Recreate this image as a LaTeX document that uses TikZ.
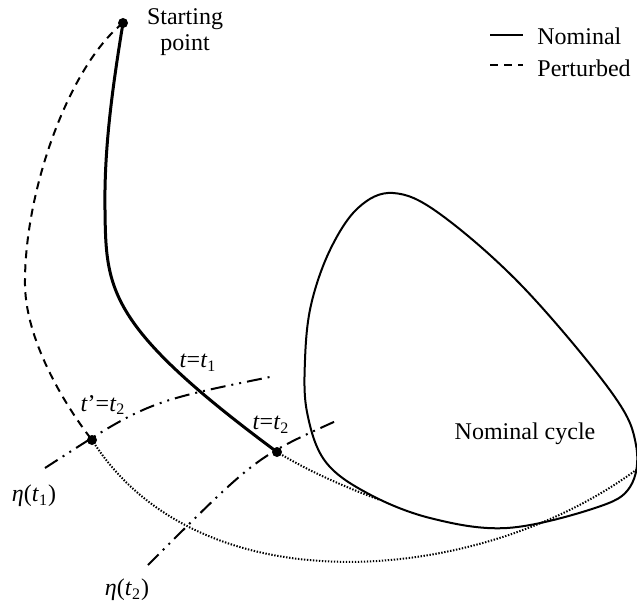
\documentclass[tikz,border=0pt]{standalone}
\usepackage{fontspec}
\setmainfont{Liberation Serif}
\usetikzlibrary{positioning}

\begin{document}
\begin{tikzpicture}[
        x=0.5pt, y=-0.5pt,
        pnt/.style={circle, fill=black, inner sep=0pt, minimum size=5pt},
        lbl/.style={font=\fontsize{12}{13}\selectfont, inner sep=1pt, align=center},
        nominal/.style={line width=1.5pt},
        perturbed/.style={line width=1pt, dash pattern=on 4pt off 3pt},
        cyc/.style={line width=1pt},
        isochron/.style={line width=1pt, dash pattern=on 7.5pt off 3pt on 1pt off 3pt on 1pt off 3pt},
        transient/.style={line width=1pt, dash pattern=on 0.7pt off 0.8pt}
    ]
    \useasboundingbox (0,0) rectangle (637,604);

    \node[pnt] (start) at (123,23) {};
    \node[pnt] (ndot) at (277,452) {};
    \node[pnt] (pdot) at (92,440) {};
    \node[lbl] (startlbl) at (185,32) {Starting\\point};

    % nominal cycle
    \draw[cyc] plot[smooth cycle, tension=0.6] coordinates {
        (393,193) (440,214) (523,287) (612,393) (636,445) (630,487)
        (595,508) (507,528) (430,518) (367,493) (325,461) (307,412)
        (305,360) (311,305) (330,250) (358,208)};
    \node[lbl] (cyclbl) at (525,434) {Nominal cycle};

    % trajectories
    \draw[nominal] (start.center) .. controls (112,90) and (104,150) .. (105,210)
        .. controls (106,290) and (107,326) .. (ndot.center);
    \draw[perturbed] (start.center) .. controls (70,65) and (24,190) .. (25,285)
        .. controls (26,345) and (70,412) .. (pdot.center);
    \draw[transient] (pdot.center) .. controls (200,610) and (480,585) .. (636,470);
    \draw[transient] (ndot.center) .. controls (310,472) and (345,487) .. (380,500);

    % isochrons
    \coordinate (e1a) at (45,468);
    \coordinate (e1b) at (270,377);
    \coordinate (e2a) at (148,565);
    \coordinate (e2b) at (336,421);
    \draw[isochron] (e1a) .. controls (147,402) .. (e1b);
    \draw[isochron] (e2a) .. controls (256,457) .. (e2b);

    \node[lbl] (lt1) at (198,363) {\textit{t}=\textit{t}\textsubscript{1}};
    \node[lbl] (lpt2) at (103,405) {\textit{t}’=\textit{t}\textsubscript{2}};
    \node[lbl] (lt2) at (271,425) {\textit{t}=\textit{t}\textsubscript{2}};
    \node[lbl] (eta1) at (34,496) {\textit{η}(\textit{t}\textsubscript{1})};
    \node[lbl] (eta2) at (127,590) {\textit{η}(\textit{t}\textsubscript{2})};

    % legend
    \coordinate (l1a) at (490,35);
    \coordinate (l1b) at (523,35);
    \coordinate (l2a) at (490,65);
    \coordinate (l2b) at (523,65);
    \draw[line width=1.3pt] (l1a) -- (l1b);
    \draw[perturbed] (l2a) -- (l2b);
    \node[lbl, anchor=west] (leg1) at (535,36) {Nominal};
    \node[lbl, anchor=west] (leg2) at (535,68) {Perturbed};

    \end{tikzpicture}
\end{document}
